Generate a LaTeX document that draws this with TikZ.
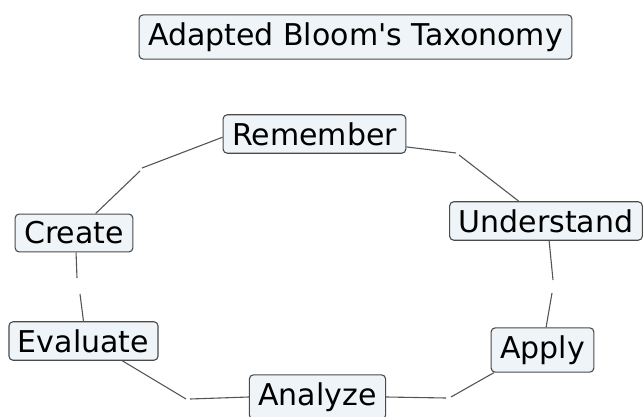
\documentclass[tikz,border=0pt]{standalone}
\usepackage{fontspec}
\setmainfont{DejaVu Sans}[Ligatures=TeXOff]
\definecolor{boxfill}{HTML}{EEF4F7}
\definecolor{boxline}{HTML}{4A4A4A}
\definecolor{linkgray}{HTML}{555555}
\tikzset{
  level/.style={draw=boxline, fill=boxfill, line width=1.1pt, rounded corners=4pt,
    inner xsep=9pt, inner ysep=7.6pt, font=\fontsize{30}{36}\selectfont},
  link/.style={draw=linkgray, line width=1.1pt}
}
\begin{document}
\begin{tikzpicture}[x=1pt,y=-1pt]
  \useasboundingbox (0,0) rectangle (643,417);

  % Title
  \node[level] (title) at (355.5,37) {Adapted Bloom's Taxonomy};

  % The six levels
  \node[level] (remember) at (314.5,134) {Remember};
  \node[level] (understand) at (546,221) {Understand};
  \node[level] (apply) at (542.5,350) {Apply};
  \node[level] (analyze) at (317.5,397) {Analyze};
  \node[level] (evaluate) at (83.5,341) {Evaluate};
  \node[level] (create) at (74,233) {Create};

  % Bend points of the links (each link has a small break)
  \coordinate (ru1) at (456,153); \coordinate (ru2) at (459,155);
  \coordinate (ua1) at (553,280); \coordinate (ua2) at (552,293);
  \coordinate (aa1) at (446,398); \coordinate (aa2) at (451,397);
  \coordinate (ea1) at (190,399); \coordinate (ea2) at (186,399);
  \coordinate (ce1) at (80,294);  \coordinate (ce2) at (77,278);
  \coordinate (cr1) at (140,171); \coordinate (cr2) at (142,168);

  % Links round the cycle
  \draw[link] (remember.-8) -- (ru1);  \draw[link] (ru2) -- (understand.144);
  \draw[link] (understand.-81) -- (ua1); \draw[link] (ua2) -- (apply.81);
  \draw[link] (apply.205) -- (aa2);    \draw[link] (aa1) -- (analyze.east);
  \draw[link] (analyze.west) -- (ea1); \draw[link] (ea2) -- (evaluate.-27.5);
  \draw[link] (evaluate.north) -- (ce1); \draw[link] (ce2) -- (create.-84);
  \draw[link] (create.42) -- (cr1);    \draw[link] (cr2) -- (remember.182);
\end{tikzpicture}
\end{document}
